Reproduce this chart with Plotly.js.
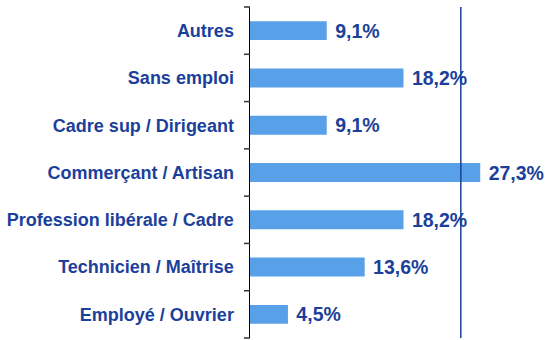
<!DOCTYPE html>
<html>
<head>
<meta charset="utf-8">
<script src="https://cdn.plot.ly/plotly-3.0.1.min.js"></script>
<style>
  html, body { margin: 0; padding: 0; background: #ffffff; }
  #chart { width: 545px; height: 340px; }
</style>
</head>
<body>
<div id="chart"></div>
<script>
// Répartition par catégorie socio-professionnelle (de haut en bas)
const categories = [
  "Autres",
  "Sans emploi",
  "Cadre sup / Dirigeant",
  "Commerçant / Artisan",
  "Profession libérale / Cadre",
  "Technicien / Maîtrise",
  "Employé / Ouvrier"
];
const values = [9.1, 18.2, 9.1, 27.3, 18.2, 13.6, 4.5];
const valueLabels = ["9,1%", "18,2%", "9,1%", "27,3%", "18,2%", "13,6%", "4,5%"];
const referenceLine = 25;

const navy = "#1B3F9B";
const barBlue = "#58A0E8";
const fontFamily = "'Liberation Sans', Arial, sans-serif";

const trace = {
  type: "bar",
  orientation: "h",
  y: categories,
  x: values,
  text: valueLabels,
  texttemplate: "\u00a0%{text}",
  textposition: "outside",
  cliponaxis: false,
  constraintext: "none",
  textfont: { family: fontFamily, size: 19.5, color: navy, weight: "bold" },
  marker: { color: barBlue, line: { width: 0 } },
  hoverinfo: "none"
};

// Vertical reference line at 25 %
const shapes = [{
  type: "line",
  xref: "x",
  yref: "paper",
  x0: referenceLine,
  x1: referenceLine,
  y0: 0,
  y1: 1,
  line: { color: navy, width: 1.5 }
}];

// Small outward ticks on the category axis, one at each category boundary
const n = categories.length;
for (let i = 0; i <= n; i++) {
  shapes.push({
    type: "line",
    xref: "paper",
    yref: "paper",
    xsizemode: "pixel",
    xanchor: 0,
    x0: -6,
    x1: 0,
    y0: i / n,
    y1: i / n,
    line: { color: "#333333", width: 1.5 }
  });
}

const layout = {
  width: 545,
  height: 340,
  margin: { l: 250, r: 42, t: 7, b: 2 },
  paper_bgcolor: "#ffffff",
  plot_bgcolor: "#ffffff",
  showlegend: false,
  bargap: 0.6,
  xaxis: {
    range: [0, 30],
    visible: false,
    showgrid: false,
    zeroline: false,
    fixedrange: true
  },
  yaxis: {
    type: "category",
    range: [n - 0.5, -0.5],
    showline: true,
    linecolor: "#000000",
    linewidth: 1.5,
    ticks: "",
    showgrid: false,
    zeroline: false,
    ticklabelstandoff: 11,
    tickfont: { family: fontFamily, size: 18, color: navy, weight: "bold" },
    fixedrange: true
  },
  shapes: shapes
};

Plotly.newPlot("chart", [trace], layout, { displayModeBar: false, staticPlot: true });
</script>
</body>
</html>
